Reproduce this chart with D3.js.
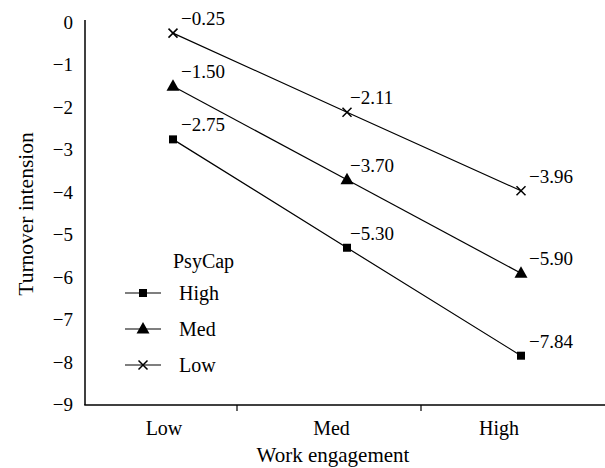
<!DOCTYPE html>
<html><head><meta charset="utf-8">
<script src="https://cdn.jsdelivr.net/npm/d3@7"></script>
<style>body{margin:0;background:#fff}svg{display:block}text{font-family:"Liberation Serif","Times New Roman",serif;fill:#000}</style>
</head><body><svg id="c" width="605" height="468"></svg>
<script>
const categories = ["Low", "Med", "High"];
const seriesNames = ["High", "Med", "Low"];
const seriesHigh = [-2.75, -5.30, -7.84];
const seriesMed = [-1.50, -3.70, -5.90];
const seriesLow = [-0.25, -2.11, -3.96];
const yTicks = [0, -1, -2, -3, -4, -5, -6, -7, -8, -9];
const xTitle = "Work engagement";
const yTitle = "Turnover intension";
const legendTitle = "PsyCap";

const series = [
  {name: seriesNames[0], values: seriesHigh, sym: "square"},
  {name: seriesNames[1], values: seriesMed, sym: "triangle"},
  {name: seriesNames[2], values: seriesLow, sym: "cross"}
];
const fmt = v => (v < 0 ? "\u2212" : "") + Math.abs(v).toFixed(2);
const fmtT = v => (v < 0 ? "\u2212" : "") + Math.abs(v);

const svg = d3.select("#c");
const y = d3.scaleLinear().domain([0, -9]).range([22.5, 405]);
const xPt = d3.scaleLinear().domain([0, 2]).range([173, 521]);
const xLab = d3.scaleLinear().domain([0, 2]).range([164, 499]);
const xTick = d3.scaleLinear().domain([0.5, 1.5]).range([237, 421]);

// axes
svg.append("line").attr("x1", 85).attr("x2", 85).attr("y1", 20).attr("y2", 405).attr("stroke", "#000").attr("stroke-width", 1.5);
svg.append("line").attr("x1", 84.25).attr("x2", 605).attr("y1", 405).attr("y2", 405).attr("stroke", "#000").attr("stroke-width", 1.5);
svg.selectAll(".xt").data([0.5, 1.5]).join("line").attr("x1", d => xTick(d)).attr("x2", d => xTick(d))
  .attr("y1", 405).attr("y2", 411).attr("stroke", "#000").attr("stroke-width", 1.2);
svg.selectAll(".yl").data(yTicks).join("text").attr("x", 73).attr("y", d => y(d)).attr("dy", "0.33em")
  .attr("text-anchor", "end").attr("font-size", 19).text(fmtT);
svg.selectAll(".xl").data(categories).join("text").attr("x", (d, i) => xLab(i)).attr("y", 435)
  .attr("text-anchor", "middle").attr("font-size", 20).text(d => d);
svg.append("text").attr("x", 333).attr("y", 462).attr("text-anchor", "middle").attr("font-size", 21).text(xTitle);
svg.append("text").attr("transform", "translate(33,214) rotate(-90)").attr("text-anchor", "middle").attr("font-size", 21.5).text(yTitle);

function marker(g, sym, cx, cy) {
  if (sym === "square") g.append("rect").attr("x", cx - 4).attr("y", cy - 4).attr("width", 8).attr("height", 8).attr("fill", "#000");
  else if (sym === "triangle") g.append("path").attr("d", `M${cx},${cy - 7}L${cx + 6.5},${cy + 4.5}L${cx - 6.5},${cy + 4.5}Z`).attr("fill", "#000");
  else g.append("path").attr("d", `M${cx - 4.5},${cy - 4.5}L${cx + 4.5},${cy + 4.5}M${cx + 4.5},${cy - 4.5}L${cx - 4.5},${cy + 4.5}`)
    .attr("stroke", "#000").attr("stroke-width", 1.5).attr("fill", "none");
}

const line = d3.line().x((d, i) => xPt(i)).y(d => y(d));
series.forEach(s => {
  const g = svg.append("g");
  g.append("path").attr("d", line(s.values)).attr("fill", "none").attr("stroke", "#000").attr("stroke-width", 1.2);
  s.values.forEach((v, i) => {
    marker(g, s.sym, xPt(i), y(v));
    g.append("text").attr("x", xPt(i) + (i === 1 ? 3 : 8)).attr("y", y(v) - 8).attr("font-size", 19).text(fmt(v));
  });
});

// legend
const lg = svg.append("g");
lg.append("text").attr("x", 173).attr("y", 268).attr("font-size", 20).text(legendTitle);
series.forEach((s, i) => {
  const yy = 293 + i * 36;
  lg.append("line").attr("x1", 125).attr("x2", 161).attr("y1", yy).attr("y2", yy).attr("stroke", "#000").attr("stroke-width", 1.2);
  marker(lg, s.sym, 143, yy);
  lg.append("text").attr("x", 179).attr("y", yy).attr("dy", "0.35em").attr("font-size", 20).text(s.name);
});
</script></body></html>
